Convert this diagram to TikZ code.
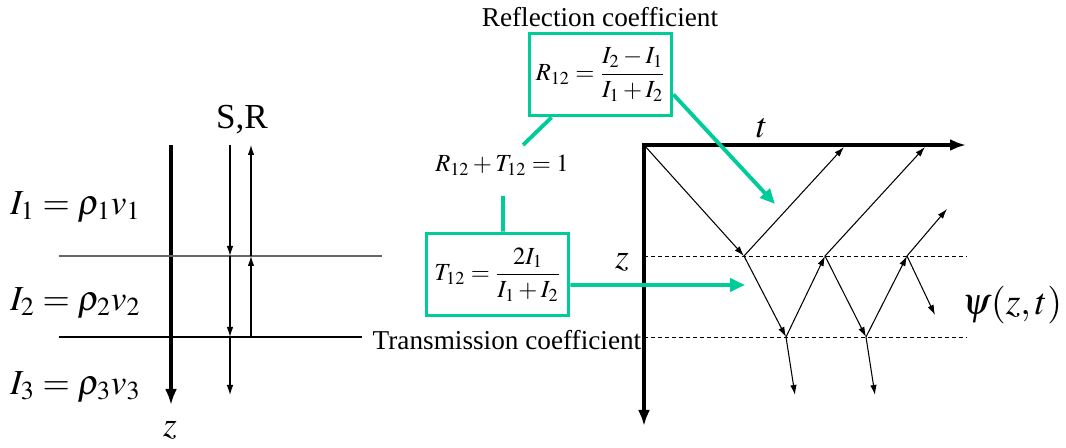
\documentclass[tikz,border=0pt]{standalone}
\usepackage{amsmath}
\usepackage{mathptmx}
\usepackage{fontspec}
\setmainfont{Liberation Serif}
\usepackage{xcolor}
\usetikzlibrary{arrows.meta}

\definecolor{coefgreen}{RGB}{0,204,153}

\begin{document}
\begin{tikzpicture}[
  x=0.02cm, y=-0.02cm,
  biglabel/.style={font=\fontsize{20}{24}\selectfont, inner sep=1pt},
  psilabel/.style={font=\fontsize{21.5}{25}\selectfont, inner sep=1pt},
  caption/.style={font=\fontsize{15.5}{18}\selectfont, inner sep=1pt},
  eq/.style={font=\fontsize{14}{16}\selectfont, inner sep=1pt},
  cbox/.style={draw=coefgreen, line width=2.2pt, font=\fontsize{14}{16}\selectfont,
    minimum width=2.84cm, minimum height=1.64cm, inner sep=0pt},
  link/.style={draw=coefgreen, line width=2.2pt},
  linkarrow/.style={link, -{Triangle[length=3mm,width=2.6mm]}},
  ray/.style={-{Latex[length=2mm,width=1.3mm]}, line width=0.6pt},
  thickaxis/.style={line width=2.6pt, line join=miter},
  layerline/.style={line width=0.7pt},
  levelline/.style={dashed, dash pattern=on 0.8mm off 0.6mm, line width=0.5pt}
]
\useasboundingbox (0,0) rectangle (1066,448);

% left: layered medium
\node[biglabel, anchor=west] (i1) at (8,207) {$I_1 = \rho_1 v_1$};
\node[biglabel, anchor=west] (i2) at (8,303) {$I_2 = \rho_2 v_2$};
\node[biglabel, anchor=west] (i3) at (8,387) {$I_3 = \rho_3 v_3$};
\node[biglabel] (sr) at (242,120) {S,R};
\node[biglabel] (zleft) at (170,430) {$z$};

\coordinate (ztop) at (171,145);
\coordinate (zbot) at (171,405);
\draw[thickaxis, -{Latex[length=3.2mm,width=2.4mm]}] (ztop) -- (zbot);

\coordinate (ifa) at (59,256);  \coordinate (ifb) at (382,256);
\coordinate (ifc) at (59,337);  \coordinate (ifd) at (362,337);
\draw[layerline, gray!80!black] (ifa) -- (ifb);
\draw[layerline] (ifc) -- (ifd);

\coordinate (s0) at (230,145); \coordinate (s1) at (230,256);
\coordinate (s2) at (230,337); \coordinate (s3) at (230,395);
\coordinate (r0) at (251,145); \coordinate (r1) at (251,256);
\coordinate (r2) at (251,337);
\foreach \a/\b in {s0/s1, s1/s2, s2/s3, r2/r1, r1/r0}
  \draw[ray] (\a) -- (\b);

% middle: coefficients
\node[caption] (refl) at (600,17) {Reflection coefficient};
\node[cbox] (rbox) at (600.5,74.5) {$R_{12} = \dfrac{I_2 - I_1}{I_1 + I_2}$};
\node[eq] (sum) at (502,165) {$R_{12} + T_{12} = 1$};
\node[cbox] (tbox) at (497.5,274.5) {$T_{12} = \dfrac{2I_1}{I_1 + I_2}$};
\node[caption] (trans) at (507,340) {Transmission coefficient};

\coordinate (rlink) at (523,145);
\coordinate (tlink) at (503,196);
\coordinate (rtip) at (775,204);
\coordinate (ttip) at (745,285);
\draw[link] ([xshift=0.48cm]rbox.south west) -- (rlink);
\draw[link] ([xshift=0.11cm]tbox.north) -- (tlink);

% right: ray paths in the (t,z) plane
\coordinate (o) at (644,145);
\coordinate (tend) at (966,145);
\coordinate (zend) at (644,426);
\draw[levelline] (o |- ifa) -- (967,256);
\draw[levelline] (o |- ifc) -- (967,337);
\draw[thickaxis, {Latex[length=3.2mm,width=2.4mm]}-{Latex[length=3.2mm,width=2.4mm]}]
  (zend) -- (o) -- (tend);
\node[biglabel] (tlabel) at (762,128) {$t$};
\node[biglabel] (zright) at (622,262) {$z$};
\node[psilabel] (psi) at (1012,305) {$\psi(z,t)$};

\coordinate (a1) at (744,256); \coordinate (b1) at (786,337);
\coordinate (a2) at (825,256); \coordinate (b2) at (866,337);
\coordinate (a3) at (907,256);
\coordinate (top1) at (844,147); \coordinate (top2) at (925,147);
\coordinate (out1) at (947,209); \coordinate (out2) at (935,315);
\coordinate (d1) at (795,395);   \coordinate (d2) at (875,395);
\foreach \a/\b in {o/a1, a1/top1, a1/b1, b1/a2, a2/top2, a2/b2,
                   b2/a3, a3/out1, a3/out2, b1/d1, b2/d2}
  \draw[ray] (\a) -- (\b);

\draw[linkarrow] ([yshift=-0.4cm]rbox.east) -- (rtip);
\draw[linkarrow] ([yshift=-0.21cm]tbox.east) -- (ttip);
\end{tikzpicture}
\end{document}
